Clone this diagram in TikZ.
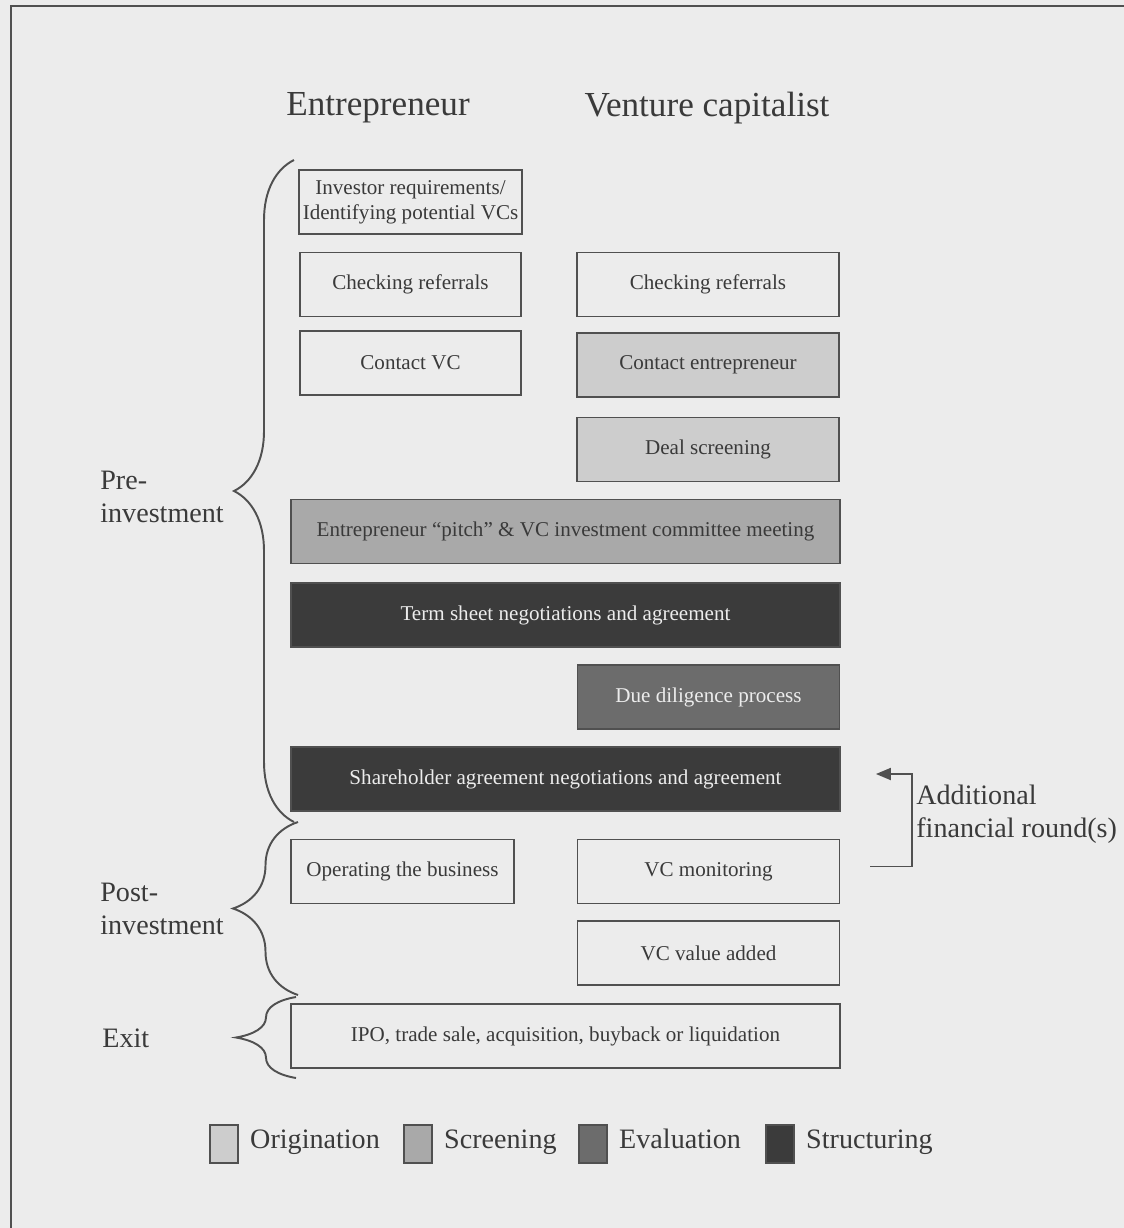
\documentclass[tikz,border=0pt]{standalone}
\usepackage{fontspec}
\setmainfont{Liberation Serif}
\usetikzlibrary{arrows.meta,positioning,decorations.pathreplacing}
\definecolor{paper}{HTML}{ECECEC}
\definecolor{origfill}{HTML}{CDCDCD}
\definecolor{screenfill}{HTML}{A9A9A9}
\definecolor{evalfill}{HTML}{6C6C6C}
\definecolor{structfill}{HTML}{3B3B3B}
\definecolor{inkgrey}{HTML}{3A3A3A}
\definecolor{rulegrey}{HTML}{505050}

\begin{document}
\begin{tikzpicture}[x=0.02cm,y=-0.02cm,
  stage/.style={draw=rulegrey,line width=1.1pt,minimum height=1.28cm,inner sep=2pt,
    font=\fontsize{12}{14}\selectfont,text=inkgrey,align=center},
  narrow/.style={stage,minimum width=4.42cm},
  vcbox/.style={stage,minimum width=5.24cm},
  wide/.style={stage,minimum width=10.98cm},
  dark/.style={text=paper},
  swatch/.style={draw=rulegrey,line width=1pt,minimum width=0.56cm,minimum height=0.76cm,inner sep=0pt},
  legtext/.style={anchor=west,font=\fontsize{16}{19}\selectfont,text=inkgrey,inner sep=0pt,
    text height=0.72em,text depth=0.22em},
  phase/.style={anchor=west,align=left,font=\fontsize{16}{19}\selectfont,text=inkgrey,inner sep=0pt},
  heading/.style={font=\fontsize{20}{24}\selectfont,text=inkgrey},
  bracket/.style={draw=rulegrey,line width=1.1pt,decorate,decoration={brace,amplitude=1.2cm}}]
\useasboundingbox (0,0) rectangle (1124,1228);
\clip (0,0) rectangle (1124,1228);
\fill[paper] (0,0) rectangle (1124,1228);
\draw[rulegrey,line width=1.6pt] (11,1240) -- (11,6) -- (1140,6);
% column headings
\node (hent) [heading] at (378,108) {Entrepreneur};
\node (hvc) [heading] at (707,108) {Venture capitalist};
% pre-investment
\node (inv) [narrow] at (410.5,202) {Investor requirements/\\Identifying potential VCs};
\node (eref) [narrow] at (410.5,284.5) {Checking referrals};
\node (vref) [vcbox] at (708,284.5) {Checking referrals};
\node (cvc) [narrow] at (410.5,363) {Contact VC};
\node (cent) [vcbox,fill=origfill] at (708,365) {Contact entrepreneur};
\node (deal) [vcbox,fill=origfill] at (708,449.5) {Deal screening};
\node (pitch) [wide,fill=screenfill] at (565.5,531.5) {Entrepreneur ``pitch'' \& VC investment committee meeting};
\node (term) [wide,fill=structfill,dark] at (565.5,615) {Term sheet negotiations and agreement};
\node (due) [vcbox,fill=evalfill,dark] at (708.5,697) {Due diligence process};
\node (share) [wide,fill=structfill,dark] at (565.5,779) {Shareholder agreement negotiations and agreement};
% post-investment
\node (oper) [stage,minimum width=4.46cm] at (402.5,871.5) {Operating the business};
\node (mon) [vcbox] at (708.5,871.5) {VC monitoring};
\node (val) [vcbox] at (708.5,953) {VC value added};
% exit
\node (ipo) [wide] at (565.5,1036) {IPO, trade sale, acquisition, buyback or liquidation};
% additional rounds
\draw[rulegrey,line width=1.1pt,-{Triangle[length=0.3cm,width=0.24cm]}]
  ([xshift=0.6cm,yshift=0.1cm]mon.east) -- ++(42,0) |- ([xshift=0.7cm,yshift=0.1cm]share.east);
\node (extra) [phase] at (916,814) {Additional\\financial round(s)};
% phases
\draw[bracket] (294,822) -- (294,160);
\draw[bracket,decoration={amplitude=1.3cm}] (298,995) -- (298,822);
\draw[bracket] (296,1078) -- (296,997);
\node (pre) [phase] at (100,497) {Pre-\\investment};
\node (post) [phase] at (100,909) {Post-\\investment};
\node (ext) [phase] at (102,1038) {Exit};
% legend
\node (sw1) [swatch,fill=origfill] at (224,1144) {};
\node (lg1) [legtext,right=0.22cm of sw1] {Origination};
\node (sw2) [swatch,fill=screenfill] at (418,1144) {};
\node (lg2) [legtext,right=0.22cm of sw2] {Screening};
\node (sw3) [swatch,fill=evalfill] at (593,1144) {};
\node (lg3) [legtext,right=0.22cm of sw3] {Evaluation};
\node (sw4) [swatch,fill=structfill] at (780,1144) {};
\node (lg4) [legtext,right=0.22cm of sw4] {Structuring};
\end{tikzpicture}
\end{document}
